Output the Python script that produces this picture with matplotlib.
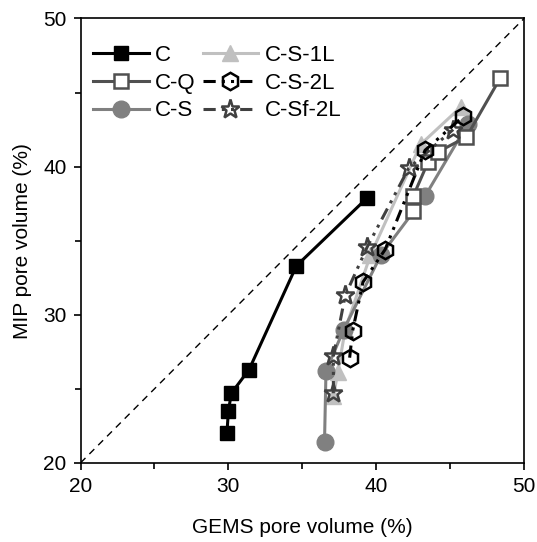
import matplotlib
matplotlib.use("Agg")
import matplotlib.pyplot as plt
from matplotlib.ticker import MultipleLocator

plt.rcParams['font.family'] = ['Liberation Sans', 'DejaVu Sans']

# Data (GEMS pore volume %, MIP pore volume %)
c_x = [29.9, 30.0, 30.2, 31.4, 34.6, 39.4]
c_y = [22.0, 23.5, 24.7, 26.3, 33.3, 37.9]

cq_x = [42.5, 42.5, 43.5, 44.2, 46.1, 48.4]
cq_y = [37.0, 38.0, 40.3, 41.0, 42.0, 46.0]

cs_x = [36.5, 36.6, 37.8, 40.3, 43.3, 46.2]
cs_y = [21.4, 26.2, 29.0, 34.0, 38.0, 42.9]

cs1l_x = [37.1, 37.4, 37.9, 39.6, 43.0, 45.7]
cs1l_y = [24.5, 26.1, 29.0, 34.0, 41.5, 44.0]

cs2l_x = [38.2, 38.4, 39.1, 40.6, 43.3, 45.9]
cs2l_y = [27.1, 28.9, 32.2, 34.4, 41.1, 43.4]

csf2l_x = [37.1, 37.1, 37.9, 39.4, 42.2, 45.2]
csf2l_y = [24.7, 27.2, 31.3, 34.6, 39.9, 42.5]

fig = plt.figure(figsize=(5.37, 5.42), dpi=100)
ax = fig.add_axes([0.150, 0.146, 0.826, 0.820])

ax.plot([20, 50], [20, 50], color='black', lw=1.0, ls=(0, (5, 4)), zorder=1)

dd = (0, (4, 2, 1, 2, 1, 2))
lw = 2.2
ax.plot(cs1l_x, cs1l_y, color='#c0c0c0', lw=lw, marker='^', ms=12,
        mfc='#c0c0c0', mec='#c0c0c0', label='C-S-1L', zorder=2)
ax.plot(cs_x, cs_y, color='#808080', lw=lw, marker='o', ms=12,
        mfc='#808080', mec='#808080', label='C-S', zorder=3)
ax.plot(cq_x, cq_y, color='#505050', lw=lw, marker='s', ms=10.5,
        mfc='white', mec='#505050', mew=1.8, label='C-Q', zorder=4)
ax.plot(csf2l_x, csf2l_y, color='#404040', lw=lw, ls=dd, marker='*', ms=14,
        mfc='none', mec='#404040', mew=1.8, label='C-Sf-2L', zorder=5)
ax.plot(cs2l_x, cs2l_y, color='black', lw=lw, ls=dd, marker='h', ms=12.5,
        mfc='none', mec='black', mew=1.8, label='C-S-2L', zorder=6)
ax.plot(c_x, c_y, color='black', lw=lw, marker='s', ms=10.5,
        mfc='black', mec='black', label='C', zorder=7)

ax.set_xlim(20, 50)
ax.set_ylim(20, 50)
ax.xaxis.set_major_locator(MultipleLocator(10))
ax.yaxis.set_major_locator(MultipleLocator(10))
ax.xaxis.set_minor_locator(MultipleLocator(5))
ax.yaxis.set_minor_locator(MultipleLocator(5))
ax.tick_params(which='both', direction='out', width=1.2, labelsize=15, pad=5)
ax.tick_params(which='major', length=5)
ax.tick_params(which='minor', length=4)
for s in ax.spines.values():
    s.set_linewidth(1.2)

ax.set_xlabel('GEMS pore volume (%)', fontsize=15, labelpad=16)
ax.set_ylabel('MIP pore volume (%)', fontsize=15, labelpad=8)

h, l = ax.get_legend_handles_labels()
order = ['C', 'C-Q', 'C-S', 'C-S-1L', 'C-S-2L', 'C-Sf-2L']
hd = dict(zip(l, h))
ax.legend([hd[k] for k in order], order, loc='upper left', ncol=2, frameon=False,
          fontsize=16, handlelength=2.5, handletextpad=0.3, columnspacing=0.3,
          labelspacing=0.3, borderaxespad=0.0, bbox_to_anchor=(0.008, 0.96))

fig.savefig('out.png', dpi=100)
